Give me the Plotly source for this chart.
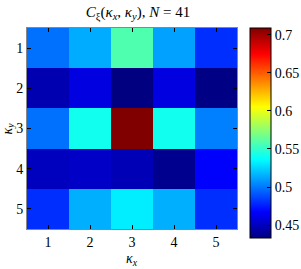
import plotly.graph_objects as go

kx = [1, 2, 3, 4, 5]
ky = [1, 2, 3, 4, 5]
C = [
    [0.498, 0.514, 0.558, 0.511, 0.480],
    [0.446, 0.459, 0.433, 0.459, 0.434],
    [0.498, 0.541, 0.709, 0.541, 0.502],
    [0.450, 0.452, 0.448, 0.437, 0.467],
    [0.480, 0.515, 0.532, 0.515, 0.480],
]
cbar_ticks = [0.45, 0.5, 0.55, 0.6, 0.65, 0.7]

jet = [
    [0.0, "rgb(0,0,128)"],
    [0.125, "rgb(0,0,255)"],
    [0.375, "rgb(0,255,255)"],
    [0.625, "rgb(255,255,0)"],
    [0.875, "rgb(255,0,0)"],
    [1.0, "rgb(128,0,0)"],
]

zmin = min(min(r) for r in C)
zmax = max(max(r) for r in C)

FAM = "Liberation Serif"
font = dict(family=FAM, size=14, color="black")

fig = go.Figure(go.Heatmap(
    x=kx, y=ky, z=C, colorscale=jet, zmin=zmin, zmax=zmax,
    colorbar=dict(
        x=(250 - 27) / 210, xanchor="left", xpad=0,
        y=1, yanchor="top", ypad=0,
        lenmode="pixels", len=210,
        thicknessmode="pixels", thickness=21,
        outlinecolor="black", outlinewidth=1,
        tickvals=cbar_ticks, ticktext=[f"{v:g}" for v in cbar_ticks],
        ticks="inside", ticklen=4, tickcolor="black",
        tickfont=font,
    ),
))

fig.update_layout(
    width=301, height=269,
    margin=dict(l=27, r=64, t=28, b=40, autoexpand=False),
    paper_bgcolor="white", plot_bgcolor="white",
    font=font,
    title=dict(
        text="<i>C</i><sub>ξ</sub>(<i>κ</i><sub><i>x</i></sub>, <i>κ</i><sub><i>y</i></sub>), <i>N</i> = 41",
        x=138 / 301, xanchor="center", y=1 - 12 / 269, yanchor="middle",
        font=dict(family=FAM, size=15, color="black"),
    ),
    annotations=[
        dict(text="<i>κ</i><sub><i>x</i></sub>", xref="paper", yref="paper",
             x=0.5, y=-30 / 201, xanchor="center", yanchor="middle",
             showarrow=False, font=font),
        dict(text="<i>κ</i><sub><i>y</i></sub>", xref="paper", yref="paper",
             x=-19 / 210, y=0.5, xanchor="center", yanchor="middle",
             textangle=-90, showarrow=False, font=font),
    ],
)
fig.update_xaxes(
    tickvals=kx, ticks="inside", ticklen=4, tickcolor="black",
    showline=True, linecolor="#888", linewidth=1, mirror="ticks",
    showgrid=False, zeroline=False, automargin=False,
    range=[0.5, 5.5],
)
fig.update_yaxes(
    tickvals=ky, ticks="inside", ticklen=4, tickcolor="black",
    showline=True, linecolor="#888", linewidth=1, mirror="ticks",
    showgrid=False, zeroline=False, automargin=False,
    autorange=False, range=[5.5, 0.5],
)

fig.write_html("out.html", config={"displayModeBar": False},
               post_script="document.body.style.margin='0';")
